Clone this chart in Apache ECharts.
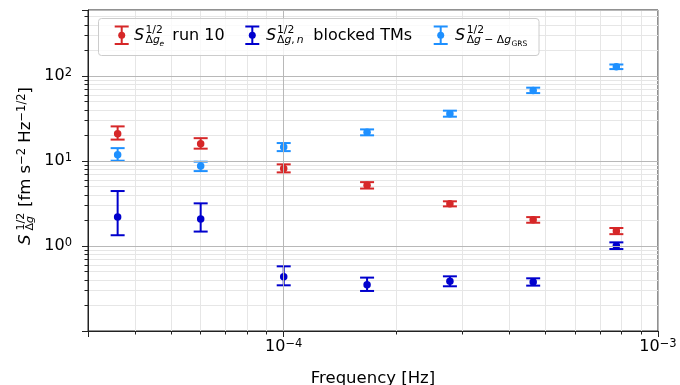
<!DOCTYPE html>
<html><head><meta charset="utf-8">
<script src="https://cdn.jsdelivr.net/npm/echarts@6/dist/echarts.min.js"></script>
<style>html,body{margin:0;padding:0;background:#fff}#c{width:680px;height:385px}</style>
</head><body><div id="c"></div><script>
// ---- data ----
const freqs = [3.6e-5, 6.0e-5, 1.0e-4, 1.67e-4, 2.78e-4, 4.64e-4, 7.74e-4];
const run10   = [21.0, 16.0, 8.2, 5.2, 3.15, 2.04, 1.50];
const run10Lo = [17.9, 14.0, 7.36, 4.75, 2.93, 1.88, 1.38];
const run10Hi = [25.6, 18.6, 9.15, 5.65, 3.36, 2.19, 1.63];
const blocked   = [2.19, 2.08, 0.436, 0.351, 0.384, 0.377, 1.01];
const blockedLo = [1.34, 1.48, 0.345, 0.296, 0.336, 0.342, 0.922];
const blockedHi = [4.44, 3.18, 0.577, 0.425, 0.440, 0.417, 1.105];
const grs   = [11.9, 8.73, 14.6, 21.8, 36.1, 67.9, 129];
const grsLo = [10.1, 7.62, 13.1, 20.1, 33.3, 63.1, 121];
const grsHi = [14.2, 9.84, 16.3, 23.6, 39.2, 73.1, 137];
const xMinor = [3e-5,4e-5,5e-5,6e-5,7e-5,8e-5,9e-5,2e-4,3e-4,4e-4,5e-4,6e-4,7e-4,8e-4,9e-4];
const yMinor = [0.2,0.3,0.4,0.5,0.6,0.7,0.8,0.9,2,3,4,5,6,7,8,9,20,30,40,50,60,70,80,90,200,300,400,500,600];
const xLabelled = [1e-4, 1e-3];
const yLabelled = [1, 10, 100];

const FONT = 'DejaVu Sans';
const RED = '#d62728', BLUE = '#0000cd', LBLUE = '#1e90ff';

function near(a, b){ return Math.abs(Math.log10(a) - Math.log10(b)) < 1e-6; }
function powLabelFor(list){
  return function(v){
    if (!list.some(t => near(t, v))) return '';
    const e = Math.round(Math.log10(v));
    return '{b|10}{s|' + (e < 0 ? '\u2212' + (-e) : e) + '}';
  };
}
const labelRich = {
  b: {fontSize: 16, fontFamily: FONT, color: '#000', lineHeight: 18},
  s: {fontSize: 11.5, fontFamily: FONT, color: '#000', lineHeight: 12, verticalAlign: 'top'}
};

function errSeries(lo, hi, color){
  return {
    type: 'custom', xAxisIndex: 0, yAxisIndex: 0, silent: true,
    data: freqs.map((f, i) => [f, lo[i], hi[i]]),
    encode: {x: 0, y: [1, 2]},
    renderItem: function(params, api){
      const a = api.coord([api.value(0), api.value(1)]);
      const b = api.coord([api.value(0), api.value(2)]);
      const hw = 7;
      const st = () => ({stroke: color, lineWidth: 2, fill: null});
      return {type: 'group', children: [
        {type: 'line', shape: {x1: a[0], y1: a[1], x2: b[0], y2: b[1]}, style: st()},
        {type: 'line', shape: {x1: a[0]-hw, y1: a[1], x2: a[0]+hw, y2: a[1]}, style: st()},
        {type: 'line', shape: {x1: b[0]-hw, y1: b[1], x2: b[0]+hw, y2: b[1]}, style: st()}
      ]};
    }
  };
}
function dotSeries(vals, color){
  return {type: 'scatter', xAxisIndex: 0, yAxisIndex: 0, silent: true,
    data: freqs.map((f, i) => [f, vals[i]]), symbol: 'circle', symbolSize: 7.5,
    itemStyle: {color: color, opacity: 1}};
}

// ---- text helpers for legend / y label ----
function T(x, baseline, text, fs, italic){
  return {type: 'text', x: x, y: baseline - 0.35*fs, z: 101,
    style: {text: text, fontSize: fs, fontFamily: FONT, fontStyle: italic ? 'italic' : 'normal',
      fill: '#000', align: 'left', verticalAlign: 'middle'}};
}
function R(x, baseline, text, fs){
  return {type: 'text', x: x, y: baseline - 0.35*fs, z: 101,
    style: {text: text, fontSize: fs, fontFamily: FONT, fill: '#000', align: 'left', verticalAlign: 'middle',
      rich: {u: {fontSize: fs, fontFamily: FONT, fill: '#000'}, i: {fontSize: fs, fontFamily: FONT, fontStyle: 'italic', fill: '#000'}}}};
}
function icon(x, color){
  const top = 26.5, bot = 44, mid = 35.2, hw = 7;
  const st = () => ({stroke: color, lineWidth: 2});
  return [
    {type: 'line', z: 101, shape: {x1: x, y1: top, x2: x, y2: bot}, style: st()},
    {type: 'line', z: 101, shape: {x1: x-hw, y1: top, x2: x+hw, y2: top}, style: st()},
    {type: 'line', z: 101, shape: {x1: x-hw, y1: bot, x2: x+hw, y2: bot}, style: st()},
    {type: 'circle', z: 101, shape: {cx: x, cy: mid, r: 3.5}, style: {fill: color}}
  ];
}
const BL = 41.3, FS = 16, SS = 10.8, SB = 44.3;
const legendEls = [
  {type: 'rect', z: 100, shape: {x: 98.5, y: 18.5, width: 440.5, height: 37, r: 3},
    style: {fill: 'rgba(255,255,255,0.8)', stroke: '#cccccc', lineWidth: 1}},
  ...icon(121.7, RED),
  T(134, BL, 'S', FS, true), T(145.5, 34, '1/2', SS), R(145.5, SB, '{u|\u0394}{i|g}', SS), T(159.5, 46.8, 'e', 7.5, true),
  T(172.3, BL, 'run 10', FS),
  ...icon(252.3, BLUE),
  T(266, BL, 'S', FS, true), T(277, 34, '1/2', SS), R(277, SB, '{u|\u0394}{i|g}{u|,\u2009}{i|n}', SS),
  T(313.3, BL, 'blocked TMs', FS),
  ...icon(440.7, LBLUE),
  T(455, BL, 'S', FS, true), T(466.7, 34, '1/2', SS), R(466.7, SB, '{u|\u0394}{i|g}{u| \u2212 \u0394}{i|g}', SS),
  T(511.5, 46.8, 'GRS', 7.5)
];
const YF = 16.5;
const yLabel = {type: 'group', x: 31.7, y: 245, rotation: Math.PI/2, children: [
  T(0, 0, 'S', YF, true), T(14.5, -7, '1/2', 11), R(14.5, 2, '{u|\u0394}{i|g}', 11),
  {type: 'text', x: 38, y: -15.8, z: 101, style: {
    text: '{n|[fm s}{p|\u22122}{n| Hz}{p|\u22121/2}{n|]}', fontFamily: FONT, fill: '#000', align: 'left', verticalAlign: 'top',
    rich: {n: {fontSize: YF, fontFamily: FONT, fill: '#000', lineHeight: 20},
           p: {fontSize: 11.5, fontFamily: FONT, fill: '#000', lineHeight: 12, verticalAlign: 'top'}}}}
]};

const axisCommon = {type: 'log', logBase: 10};
const option = {
  animation: false,
  backgroundColor: '#fff',
  grid: {left: 88, top: 10, width: 570, height: 321, containLabel: false, outerBoundsMode: 'none',
    show: true, borderColor: '#222', borderWidth: 1, backgroundColor: 'transparent'},
  xAxis: [
    Object.assign({}, axisCommon, {min: 3e-5, max: 1e-3, position: 'bottom',
      name: 'Frequency [Hz]', nameLocation: 'middle', nameGap: 39,
      nameTextStyle: {fontSize: 16.5, fontFamily: FONT, color: '#000'},
      axisLine: {show: true, lineStyle: {color: '#222', width: 1}},
      axisTick: {show: true, length: 6, inside: false, lineStyle: {color: '#222', width: 1}},
      axisLabel: {show: true, margin: 7, formatter: powLabelFor(xLabelled), rich: labelRich, color: '#000'},
      splitLine: {show: true, lineStyle: {color: '#b8b8b8', width: 1}},
      minorTick: {show: false}, minorSplitLine: {show: false}, z: 3}),
    Object.assign({}, axisCommon, {min: 3e-5, max: 1e-3, position: 'bottom',
      axisLine: {show: false},
      axisTick: {show: true, length: 3.5, inside: false, customValues: xMinor, lineStyle: {color: '#222', width: 1}},
      axisLabel: {show: false},
      splitLine: {show: true, lineStyle: {color: '#e6e6e6', width: 1}}, z: 1})
  ],
  yAxis: [
    Object.assign({}, axisCommon, {min: 0.1, max: 600, position: 'left',
      axisLine: {show: true, lineStyle: {color: '#222', width: 1}},
      axisTick: {show: true, length: 6, inside: false, lineStyle: {color: '#222', width: 1}},
      axisLabel: {show: true, margin: 16, formatter: powLabelFor(yLabelled), rich: labelRich, color: '#000'},
      splitLine: {show: true, lineStyle: {color: '#b8b8b8', width: 1}},
      minorTick: {show: false}, minorSplitLine: {show: false}, z: 3}),
    Object.assign({}, axisCommon, {min: 0.1, max: 600, position: 'left',
      axisLine: {show: false},
      axisTick: {show: true, length: 3.5, inside: false, customValues: yMinor, lineStyle: {color: '#222', width: 1}},
      axisLabel: {show: false},
      splitLine: {show: true, lineStyle: {color: '#e6e6e6', width: 1}}, z: 1})
  ],
  series: [
    errSeries(run10Lo, run10Hi, RED), dotSeries(run10, RED),
    errSeries(blockedLo, blockedHi, BLUE), dotSeries(blocked, BLUE),
    errSeries(grsLo, grsHi, LBLUE), dotSeries(grs, LBLUE)
  ],
  graphic: [{type: 'group', z: 100, children: legendEls}, yLabel]
};
const chart = echarts.init(document.getElementById('c'), null, {renderer: 'canvas'});
chart.setOption(option);
</script></body></html>
